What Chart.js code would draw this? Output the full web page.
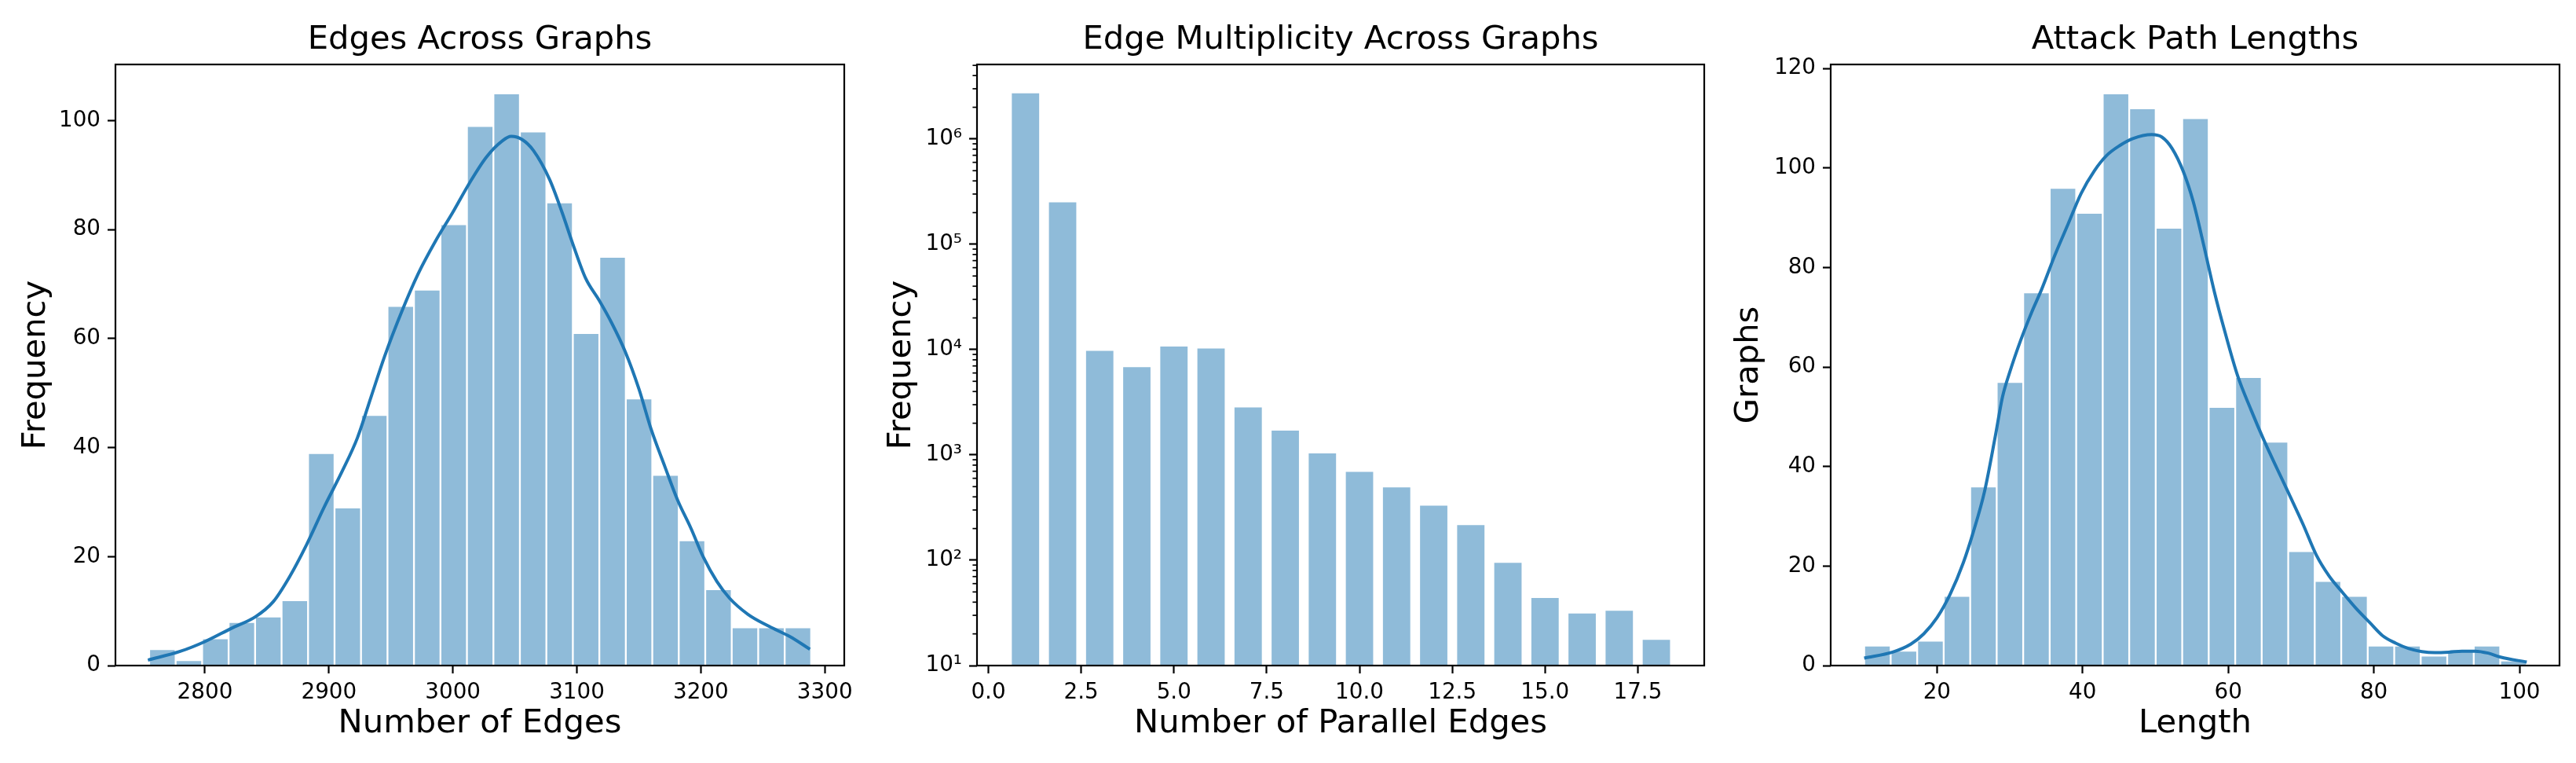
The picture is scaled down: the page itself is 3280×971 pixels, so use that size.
<!DOCTYPE html>
<html>
<head>
<meta charset="utf-8">
<script src="https://cdn.jsdelivr.net/npm/chart.js@4.4.1/dist/chart.umd.min.js"></script>
<style>
html,body{margin:0;padding:0;background:#fff;}
#wrap{position:relative;width:3280px;height:971px;overflow:hidden;background:#fff;}
canvas{position:absolute;top:0;}
</style>
</head>
<body>
<div id="wrap">
<canvas id="c1" width="1100" height="971" style="left:0px"></canvas>
<canvas id="c2" width="1080" height="971" style="left:1100px"></canvas>
<canvas id="c3" width="1100" height="971" style="left:2180px"></canvas>
</div>
<script>
// ---------- Panel 1: Edges Across Graphs ----------
const edgesBinCenters = [2765.68, 2787.04, 2808.40, 2829.76, 2851.12, 2872.48, 2893.84, 2915.20, 2936.56, 2957.92,
  2979.28, 3000.64, 3022.00, 3043.36, 3064.72, 3086.08, 3107.44, 3128.80, 3150.16, 3171.52,
  3192.88, 3214.24, 3235.60, 3256.96, 3278.32];
const edgesCounts = [3, 1, 5, 8, 9, 12, 39, 29, 46, 66, 69, 81, 99, 105, 98, 85, 61, 75, 49, 35, 23, 14, 7, 7, 7];
const edgesKdeX = [2754, 2780, 2800, 2821, 2841, 2855, 2868, 2882, 2896, 2911, 2923, 2934, 2945, 2959, 2972,
  2986, 3000, 3013, 3027, 3040, 3047, 3056, 3065, 3078, 3088, 3097, 3107, 3118, 3128, 3139,
  3150, 3160, 3171, 3181, 3192, 3202, 3213, 3223, 3238, 3255, 3272, 3288];
const edgesKdeY = [1.0, 2.6, 4.4, 6.8, 9.0, 11.7, 16.2, 22.2, 29.0, 35.8, 41.8, 49.3, 56.8, 65.1, 71.9,
  77.9, 83.2, 88.4, 93.3, 96.3, 97.1, 96.5, 94.5, 89.2, 83.2, 77.2, 71.1, 67.0, 62.9, 57.6,
  50.8, 43.3, 36.5, 30.5, 25.2, 19.9, 15.4, 12.4, 9.4, 7.2, 5.3, 3.0];
const edgesXTicks = [2800, 2900, 3000, 3100, 3200, 3300];
const edgesYTicks = [0, 20, 40, 60, 80, 100];

// ---------- Panel 2: Edge Multiplicity Across Graphs ----------
const multCategories = [1, 2, 3, 4, 5, 6, 7, 8, 9, 10, 11, 12, 13, 14, 15, 16, 17, 18];
const multCounts = [2780000, 257000, 10000, 7000, 11000, 10500, 2900, 1750, 1060, 710, 505, 338, 221, 97, 45, 32, 34, 18];
const multXTicks = [0, 2.5, 5, 7.5, 10, 12.5, 15, 17.5];
const multYTickValues = [10, 100, 1000, 10000, 100000, 1000000];
const multYTickLabels = ['10\u00B9', '10\u00B2', '10\u00B3', '10\u2074', '10\u2075', '10\u2076'];

// ---------- Panel 3: Attack Path Lengths ----------
const pathBinCenters = [11.82, 15.46, 19.10, 22.74, 26.38, 30.02, 33.66, 37.30, 40.94, 44.58,
  48.22, 51.86, 55.50, 59.14, 62.78, 66.42, 70.06, 73.70, 77.34, 80.98,
  84.62, 88.26, 91.90, 95.54, 99.18];
const pathCounts = [4, 3, 5, 14, 36, 57, 75, 96, 91, 115, 112, 88, 110, 52, 58, 45, 23, 17, 14, 4, 4, 2, 3, 4, 1];
const pathKdeX = [10.0, 13.9, 16.4, 18.2, 20.0, 21.8, 23.6, 25.0, 26.5, 28.0, 29.0, 30.0, 31.5, 33.0, 34.4,
  36.2, 38.0, 39.8, 41.6, 43.3, 45.1, 46.9, 49.5, 50.9, 52.3, 53.8, 55.2, 56.6, 58.1, 59.5,
  61.3, 63.1, 64.9, 66.7, 68.5, 70.3, 72.1, 73.9, 75.7, 77.5, 79.4, 81.2, 83.0, 84.8, 86.6,
  88.4, 90.3, 92.1, 93.9, 95.7, 97.4, 101.0];
const pathKdeY = [1.5, 2.7, 4.3, 6.4, 9.6, 14.3, 20.6, 26.9, 34.8, 46.0, 54.0, 59.0, 65.4, 71.0, 75.7,
  82.5, 88.7, 94.9, 99.4, 102.5, 104.5, 105.9, 106.7, 106.2, 103.9, 99.4, 93.2, 84.7, 75.1, 67.3,
  58.2, 51.5, 45.3, 39.6, 34.0, 28.3, 22.2, 17.9, 14.7, 11.6, 8.7, 6.0, 4.5, 3.4, 2.8,
  2.6, 2.7, 2.9, 2.9, 2.5, 1.7, 0.7];
const pathXTicks = [20, 40, 60, 80, 100];
const pathYTicks = [0, 20, 40, 60, 80, 100, 120];

// ---------- common styling ----------
Chart.defaults.font.family = "'DejaVu Sans', sans-serif";
Chart.defaults.color = '#000';
Chart.defaults.animation = false;

const BAR_FILL = 'rgba(31,119,180,0.5)';
const LINE_COLOR = '#1f77b4';
const TICK_FONT = {size: 27.8};
const LABEL_FONT = {size: 41.7, lineHeight: 1.2, weight: 'normal'};

const framePlugin = {
  id: 'frame',
  afterDraw(chart) {
    const a = chart.chartArea, ctx = chart.ctx;
    ctx.save();
    ctx.strokeStyle = '#000';
    ctx.lineWidth = 2.2;
    ctx.strokeRect(a.left, a.top, a.right - a.left, a.bottom - a.top);
    ctx.restore();
  }
};

const minorTickPlugin = {
  id: 'minorTicks',
  afterDraw(chart) {
    const s = chart.scales.y, ctx = chart.ctx, x0 = chart.chartArea.left;
    ctx.save();
    ctx.strokeStyle = '#000';
    ctx.lineWidth = 1.7;
    s.ticks.forEach(t => {
      if (!t.major) {
        const y = s.getPixelForValue(t.value);
        ctx.beginPath();
        ctx.moveTo(x0, y);
        ctx.lineTo(x0 - 5.6, y);
        ctx.stroke();
      }
    });
    ctx.restore();
  }
};

function tickGrid() {
  return {display: true, drawOnChartArea: false, drawTicks: true, tickLength: 10, tickWidth: 2.2, tickColor: '#000', offset: false};
}

function xScale(min, max, ticks, title, fmt) {
  return {
    type: 'linear', min: min, max: max, offset: false,
    grid: tickGrid(), border: {display: false},
    afterBuildTicks: s => { s.ticks = ticks.map(v => ({value: v})); },
    afterFit: s => { s.height = 124; },
    ticks: {font: TICK_FONT, padding: 8, autoSkip: false, maxRotation: 0, includeBounds: false,
      callback: fmt || (v => String(v))},
    title: {display: true, text: title, font: LABEL_FONT, padding: {top: 0, bottom: 24.4}}
  };
}

function yScale(min, max, ticks, title, width, titlePad) {
  return {
    type: 'linear', min: min, max: max,
    grid: tickGrid(), border: {display: false},
    afterBuildTicks: s => { s.ticks = ticks.map(v => ({value: v})); },
    afterFit: s => { s.width = width; },
    ticks: {font: TICK_FONT, padding: 9, autoSkip: false, includeBounds: false, callback: v => String(v)},
    title: {display: true, text: title, font: LABEL_FONT, padding: {top: titlePad, bottom: 0}}
  };
}

function titleOpts(text) {
  return {display: true, text: text, font: LABEL_FONT, color: '#000', fullSize: false, padding: {top: 26.1, bottom: 5.9}};
}

function barDataset(xs, ys, pct) {
  return {
    type: 'bar', order: 1,
    data: xs.map((x, i) => ({x: x, y: ys[i]})),
    backgroundColor: BAR_FILL, borderColor: '#ffffff', borderWidth: 1.5,
    barPercentage: pct, categoryPercentage: 1.0
  };
}

function lineDataset(xs, ys) {
  return {
    type: 'line', order: 0,
    data: xs.map((x, i) => ({x: x, y: ys[i]})),
    borderColor: LINE_COLOR, borderWidth: 4, pointRadius: 0, fill: false,
    cubicInterpolationMode: 'monotone'
  };
}

const commonOpts = {
  responsive: false, animation: false, devicePixelRatio: 1,
  events: []
};

// ---------- Chart 1 ----------
new Chart(document.getElementById('c1'), {
  type: 'bar',
  data: {datasets: [lineDataset(edgesKdeX, edgesKdeY), barDataset(edgesBinCenters, edgesCounts, 1.0)]},
  options: Object.assign({}, commonOpts, {
    layout: {padding: {left: 0, right: 25, top: 0, bottom: 0}},
    plugins: {legend: {display: false}, tooltip: {enabled: false}, title: titleOpts('Edges Across Graphs')},
    scales: {
      x: xScale(2727.8, 3315.7, edgesXTicks, 'Number of Edges'),
      y: yScale(0, 110.3, edgesYTicks, 'Frequency', 147, 21.3)
    }
  }),
  plugins: [framePlugin]
});

// ---------- Chart 2 ----------
const y2 = {
  type: 'logarithmic', min: 10, max: 5.1e6,
  grid: Object.assign(tickGrid(), {tickColor: c => (c.tick && c.tick.major) ? '#000' : 'rgba(0,0,0,0)'}),
  border: {display: false},
  afterBuildTicks: s => {
    const out = [];
    multYTickValues.forEach(base => {
      for (let m = 1; m <= 9; m++) {
        const v = m === 1 ? base : base * m;
        if (v <= s.max) out.push({value: v, major: m === 1});
      }
    });
    s.ticks = out;
  },
  afterFit: s => { s.width = 144; },
  ticks: {font: TICK_FONT, padding: 9, autoSkip: false,
    callback: v => { const i = multYTickValues.indexOf(v); return i >= 0 ? multYTickLabels[i] : ''; }},
  title: {display: true, text: 'Frequency', font: LABEL_FONT, padding: {top: 23.4, bottom: 0}}
};

new Chart(document.getElementById('c2'), {
  type: 'bar',
  data: {datasets: [barDataset(multCategories, multCounts, 0.8)]},
  options: Object.assign({}, commonOpts, {
    layout: {padding: {left: 0, right: 10, top: 0, bottom: 0}},
    plugins: {legend: {display: false}, tooltip: {enabled: false}, title: titleOpts('Edge Multiplicity Across Graphs')},
    scales: {
      x: xScale(-0.307, 19.29, multXTicks, 'Number of Parallel Edges', v => Number(v).toFixed(1)),
      y: y2
    }
  }),
  plugins: [framePlugin, minorTickPlugin]
});

// ---------- Chart 3 ----------
new Chart(document.getElementById('c3'), {
  type: 'bar',
  data: {datasets: [lineDataset(pathKdeX, pathKdeY), barDataset(pathBinCenters, pathCounts, 1.0)]},
  options: Object.assign({}, commonOpts, {
    layout: {padding: {left: 0, right: 21, top: 0, bottom: 0}},
    plugins: {legend: {display: false}, tooltip: {enabled: false}, title: titleOpts('Attack Path Lengths')},
    scales: {
      x: xScale(5.4, 105.5, pathXTicks, 'Length'),
      y: yScale(0, 120.8, pathYTicks, 'Graphs', 151, 22.3)
    }
  }),
  plugins: [framePlugin]
});
</script>
</body>
</html>
